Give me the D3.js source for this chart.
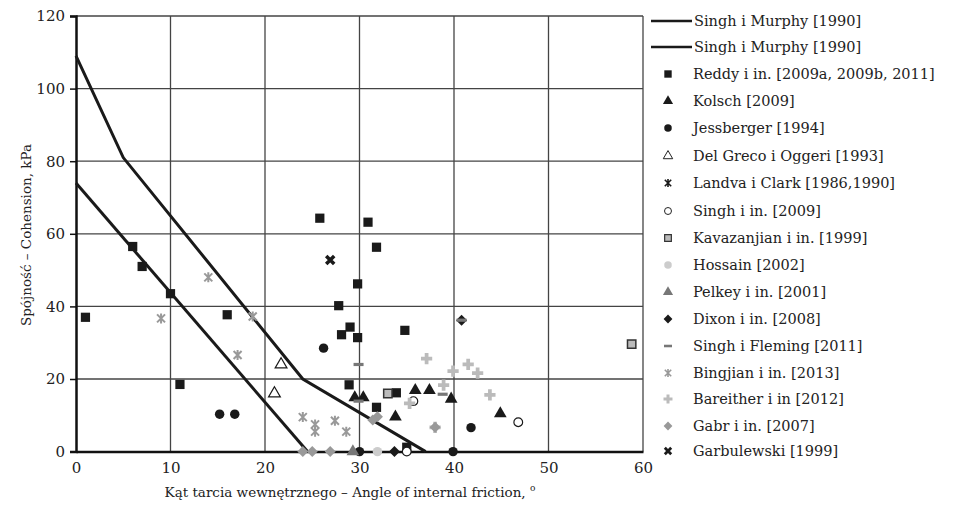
<!DOCTYPE html>
<html>
<head>
<meta charset="utf-8">
<script src="https://cdn.jsdelivr.net/npm/d3@7"></script>
</head>
<body style="margin:0">
<script>
// data: [angle of friction, cohesion]
const murphyUpper = [[0, 109], [5, 81], [24, 20], [37, 0]]
const murphyLower = [[0, 74], [24.5, 0]]

const reddy = [[1, 37], [6, 56.5], [7, 51], [10, 43.5], [11, 18.5], [16, 37.7], [25.8, 64.3], [30.9, 63.2],
  [31.8, 56.3], [29.8, 46.2], [27.8, 40.2], [29, 34.3], [28.1, 32.2], [29.8, 31.4], [34.8, 33.4],
  [28.9, 18.4], [33.9, 16.2], [31.8, 12.2], [35, 1.2]]
const kolsch = [[29.5, 14.9], [30.4, 14.9], [35.9, 16.9], [37.4, 16.9], [39.7, 14.5], [33.8, 9.6], [44.9, 10.5]]
const jessberger = [[15.2, 10.3], [16.8, 10.3], [26.2, 28.5], [30, 0], [39.9, 0], [41.8, 6.6]]
const delGreco = [[21.7, 24], [21, 16]]
const landva = []
const singhIn = [[35.7, 13.9], [46.8, 8.1], [35, 0]]
const kavazanjian = [[33, 16], [58.8, 29.6]]
const hossain = [[31.9, 0]]
const pelkey = [[29.3, 0]]
const dixon = [[33.7, 0], [40.8, 36.2]]
const singhFleming = [[29.9, 24], [29.9, 13.9], [38.8, 15.8], [40.8, 36.2]]
const bingjian = [[14, 48], [9, 36.7], [18.7, 37.2], [17.1, 26.6], [24, 9.5], [25.3, 7.5], [25.3, 5.5], [27.4, 8.5], [28.6, 5.5]]
const bareither = [[37.1, 25.6], [39.9, 22.2], [41.5, 24], [42.5, 21.6], [38.9, 18.3], [43.8, 15.6], [35.3, 13.3], [38, 6.7]]
const gabr = [[24, 0], [25, 0], [26.9, 0], [31.9, 9.6], [31.4, 8.7], [38, 6.7]]
const garbulewski = [[26.9, 52.8]]

const xTicks = [0, 10, 20, 30, 40, 50, 60]
const yTicks = [0, 20, 40, 60, 80, 100, 120]

const w = 957, h = 514
const plotL = 76, plotR = 643, plotT = 16, plotB = 451.6
const fontName = 'DejaVu Serif'

const svg = d3.select('body').append('svg').attr('width', w).attr('height', h)

const x = d3.scaleLinear().domain([0, 60]).range([plotL, plotR])
const y = d3.scaleLinear().domain([0, 120]).range([plotB, plotT])

// grid
svg.append('g').selectAll('line').data(xTicks.slice(1)).join('line')
  .attr('x1', d => x(d)).attr('x2', d => x(d)).attr('y1', plotT).attr('y2', plotB)
  .attr('stroke', '#444').attr('stroke-width', 1.3)
svg.append('g').selectAll('line').data(yTicks.slice(1)).join('line')
  .attr('x1', plotL).attr('x2', plotR).attr('y1', d => y(d)).attr('y2', d => y(d))
  .attr('stroke', '#444').attr('stroke-width', 1.3)

// axes
const xAxis = svg.append('g').attr('transform', `translate(0,${plotB})`)
  .call(d3.axisBottom(x).tickValues(xTicks).tickSize(0).tickPadding(11))
const yAxis = svg.append('g').attr('transform', `translate(${plotL},0)`)
  .call(d3.axisLeft(y).tickValues(yTicks).tickSize(6).tickPadding(5))
xAxis.attr('font-family', fontName)
yAxis.attr('font-family', fontName)
xAxis.select('.domain').attr('stroke', '#111').attr('stroke-width', 2.5)
yAxis.select('.domain').attr('stroke', '#111').attr('stroke-width', 2.5)
yAxis.selectAll('.tick line').attr('stroke', '#111').attr('stroke-width', 1.5)
svg.selectAll('.tick text').attr('font-family', fontName).attr('font-size', 15).attr('fill', '#222')

// lines
const line = d3.line().x(d => x(d[0])).y(d => y(d[1]))
;[murphyUpper, murphyLower].forEach(s => {
  svg.append('path').datum(s).attr('d', line)
    .attr('fill', 'none').attr('stroke', '#1a1a1a').attr('stroke-width', 3).attr('stroke-linejoin', 'miter')
})

// marker shapes
const sym = (type, size) => d3.symbol().type(type).size(size)()
const asterisk = 'M-4,-4L4,4M-4,4L4,-4M0,-5L0,5'
const bigX = 'M-4,-4L4,4M-4,4L4,-4'
const diamond = 'M0,-5.5L5.5,0L0,5.5L-5.5,0Z'

const series = [
  {name: 'Reddy i in. [2009a, 2009b, 2011]', data: reddy, path: sym(d3.symbolSquare, 85), fill: '#1a1a1a', stroke: 'none'},
  {name: 'Kolsch [2009]', data: kolsch, path: sym(d3.symbolTriangle, 70), fill: '#1a1a1a', stroke: 'none'},
  {name: 'Jessberger [1994]', data: jessberger, path: sym(d3.symbolCircle, 70), fill: '#1a1a1a', stroke: 'none'},
  {name: 'Del Greco i Oggeri [1993]', data: delGreco, path: sym(d3.symbolTriangle, 60), fill: '#fff', stroke: '#1a1a1a', sw: 1.2},
  {name: 'Landva i Clark [1986,1990]', data: landva, path: asterisk, fill: 'none', stroke: '#1a1a1a', sw: 2},
  {name: 'Singh i in. [2009]', data: singhIn, path: sym(d3.symbolCircle, 60), fill: '#fff', stroke: '#1a1a1a', sw: 1.2},
  {name: 'Kavazanjian i in. [1999]', data: kavazanjian, path: sym(d3.symbolSquare, 70), fill: '#bbb', stroke: '#333', sw: 1.5},
  {name: 'Hossain [2002]', data: hossain, path: sym(d3.symbolCircle, 70), fill: '#ccc', stroke: 'none'},
  {name: 'Pelkey i in. [2001]', data: pelkey, path: sym(d3.symbolTriangle, 70), fill: '#777', stroke: 'none'},
  {name: 'Dixon i in. [2008]', data: dixon, path: diamond, fill: '#1a1a1a', stroke: 'none'},
  {name: 'Singh i Fleming [2011]', data: singhFleming, path: 'M-5,-1.6H5V1.6H-5Z', fill: '#777', stroke: 'none'},
  {name: 'Bingjian i in. [2013]', data: bingjian, path: asterisk, fill: 'none', stroke: '#999', sw: 2},
  {name: 'Bareither i in [2012]', data: bareither, path: sym(d3.symbolCross, 70), fill: '#bbb', stroke: 'none'},
  {name: 'Gabr i in. [2007]', data: gabr, path: diamond, fill: '#999', stroke: 'none'},
  {name: 'Garbulewski [1999]', data: garbulewski, path: bigX, fill: 'none', stroke: '#1a1a1a', sw: 3.5}
]

series.forEach(s => {
  svg.append('g').selectAll('path').data(s.data).join('path')
    .attr('transform', d => `translate(${x(d[0])},${y(d[1])})`)
    .attr('d', s.path).attr('fill', s.fill).attr('stroke', s.stroke).attr('stroke-width', s.sw || 0)
})

// legend
const legendY = [21, 47, 74, 101, 128, 156, 183, 211, 238, 265, 292, 319, 346, 373, 399, 426, 451]
const lg = svg.append('g')
;['Singh i Murphy [1990]', 'Singh i Murphy [1990]'].forEach((t, i) => {
  lg.append('line').attr('x1', 651).attr('x2', 692).attr('y1', legendY[i]).attr('y2', legendY[i])
    .attr('stroke', '#1a1a1a').attr('stroke-width', 2.5)
  lg.append('text').attr('x', 694).attr('y', legendY[i]).attr('dy', '0.35em')
    .attr('font-family', fontName).attr('font-size', 14.5).attr('fill', '#222').text(t)
})
series.forEach((s, i) => {
  const yy = legendY[i + 2]
  lg.append('path').attr('transform', `translate(668,${yy}) scale(0.8)`)
    .attr('d', s.path).attr('fill', s.fill).attr('stroke', s.stroke).attr('stroke-width', s.sw || 0)
  lg.append('text').attr('x', 693).attr('y', yy).attr('dy', '0.35em')
    .attr('font-family', fontName).attr('font-size', 14.5).attr('fill', '#222').text(s.name)
})

// axis titles
svg.append('text').attr('x', 350).attr('y', 497).attr('text-anchor', 'middle')
  .attr('font-family', fontName).attr('font-size', 13.5).attr('fill', '#222')
  .html('Kąt tarcia wewnętrznego – Angle of internal friction, <tspan dy="-6" font-size="9">o</tspan>')
svg.append('text').attr('transform', 'translate(31,235) rotate(-90)').attr('text-anchor', 'middle')
  .attr('font-family', fontName).attr('font-size', 13.5).attr('fill', '#222').text('Spójność – Cohension, kPa')
</script>
</body>
</html>
